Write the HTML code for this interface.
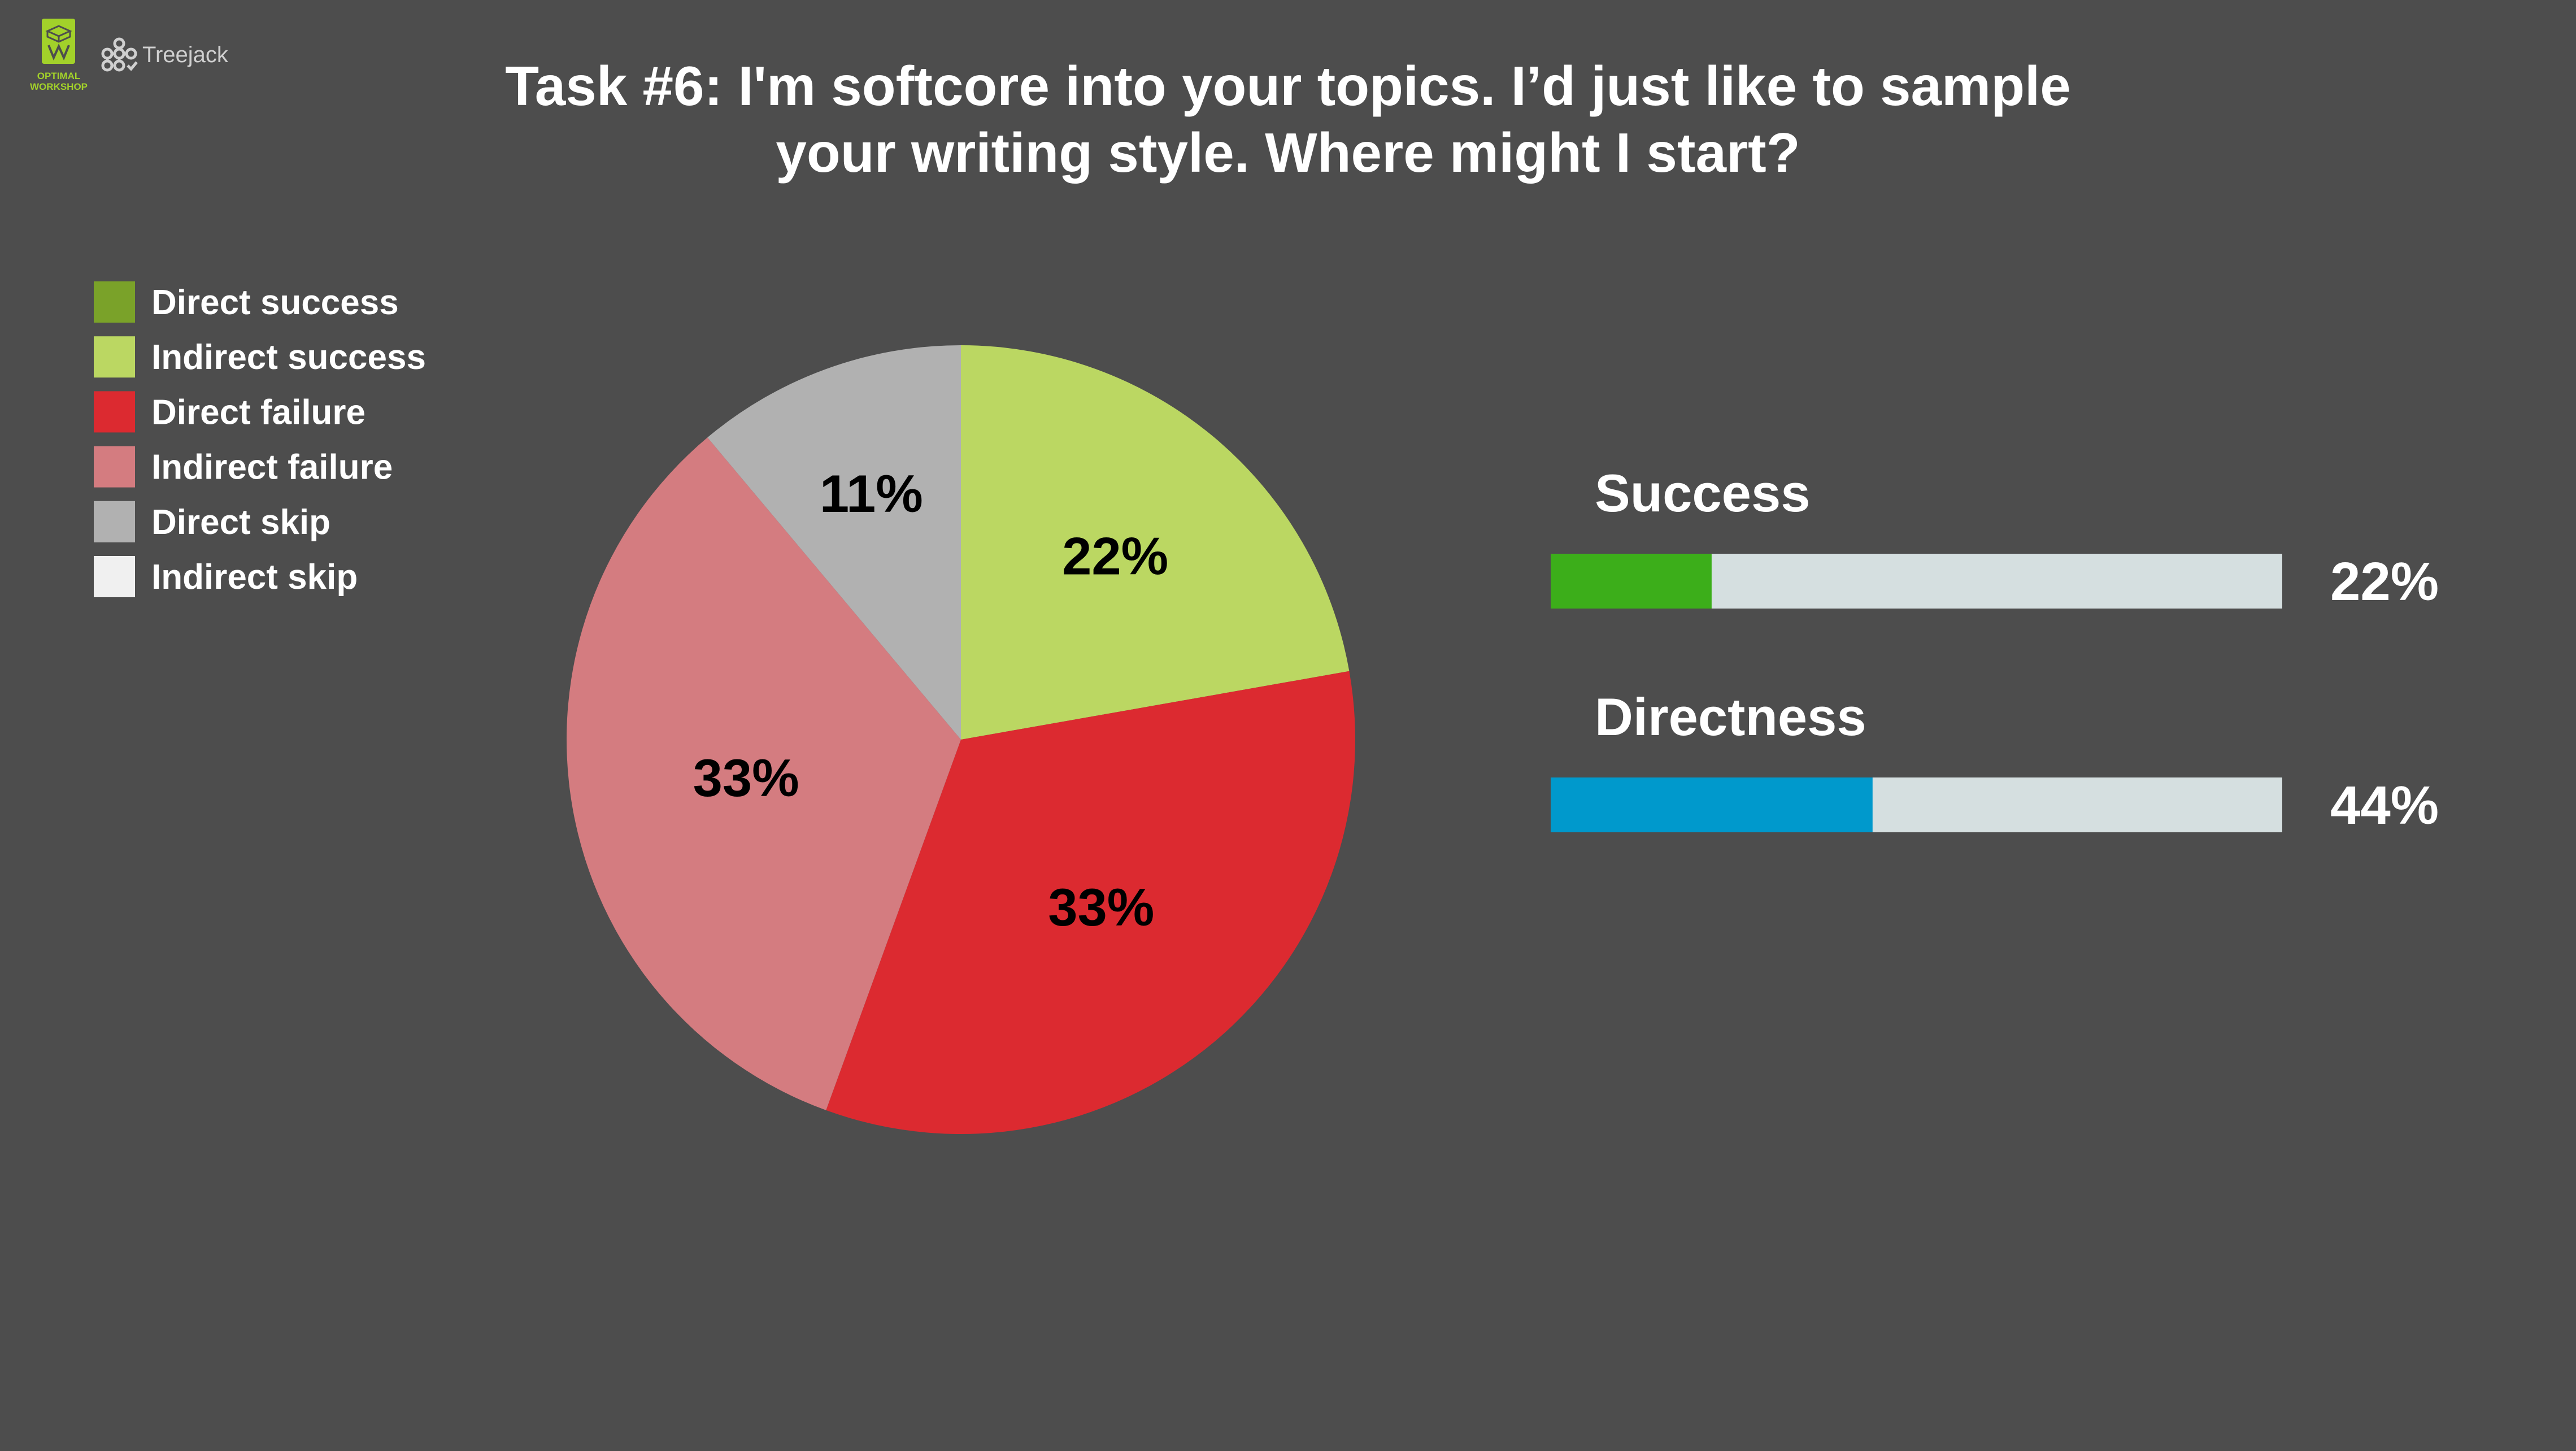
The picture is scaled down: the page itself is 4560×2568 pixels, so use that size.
<!DOCTYPE html>
<html><head><meta charset="utf-8"><style>
html,body{margin:0;padding:0;background:#4d4d4d;}
svg{display:block;font-family:"Liberation Sans",sans-serif;}
</style></head><body>
<svg id="chart" width="4560" height="2568" viewBox="0 0 4560 2568" xmlns="http://www.w3.org/2000/svg">
<rect width="4560" height="2568" fill="#4d4d4d"/>
<g>
<rect x="74" y="33" width="59" height="80" rx="4" fill="#a2d12a"/>
<path d="M84 55 L104 46 L124 55 L104 64 Z M84 55 L84 65 L104 74 L124 65 L124 55 M104 64 L104 74" stroke="#4d4d4d" stroke-width="3" fill="none"/>
<path d="M86 80 L95 102 L104 82 L113 102 L122 80" stroke="#4d4d4d" stroke-width="4" fill="none"/>
<text x="104" y="140" font-size="17" font-weight="bold" fill="#a2d12a" text-anchor="middle">OPTIMAL</text>
<text x="104" y="159" font-size="17" font-weight="bold" fill="#a2d12a" text-anchor="middle">WORKSHOP</text>
</g>
<g stroke="#cfcfcf" stroke-width="5" fill="none">
<line x1="211" y1="77" x2="211" y2="115"/><line x1="190" y1="95" x2="232" y2="95"/><line x1="190" y1="95" x2="190" y2="115"/>
<circle cx="211" cy="77" r="8" fill="#4d4d4d"/><circle cx="190" cy="95" r="8" fill="#4d4d4d"/><circle cx="211" cy="95" r="8" fill="#4d4d4d"/><circle cx="232" cy="95" r="8" fill="#4d4d4d"/><circle cx="190" cy="116" r="8" fill="#4d4d4d"/><circle cx="211" cy="116" r="8" fill="#4d4d4d"/>
<path d="M226 116 L232 122 L242 110"/>
<text x="252" y="110" font-size="40" fill="#d0d0d0" stroke="none">Treejack</text>
</g>
<g fill="#ffffff" font-weight="bold" font-size="98" text-anchor="middle">
<text x="2280" y="186">Task #6: I'm softcore into your topics. I’d just like to sample</text>
<text x="2280" y="304">your writing style. Where might I start?</text>
</g>
<g id="legend"></g>
<g id="pie"></g>
<g id="bars"></g>
</svg>
<script>
const legendLabels = ["Direct success","Indirect success","Direct failure","Indirect failure","Direct skip","Indirect skip"];
const legendColors = ["#7aa229","#bbd762","#dc2a30","#d47c80","#b1b1b1","#f0f0f0"];
const pieValues = [0, 2, 3, 3, 1, 0];
const pieLabels = ["", "22%", "33%", "33%", "11%", ""];
const metricNames = ["Success","Directness"];
const metricValues = [22, 44];
const metricColors = ["#3cae1a","#0099cc"];

const NS = "http://www.w3.org/2000/svg";
function mk(tag, attrs, parent){const e=document.createElementNS(NS,tag);for(const k in attrs)e.setAttribute(k,attrs[k]);parent.appendChild(e);return e;}

const lg = document.getElementById('legend');
legendLabels.forEach((lab,i)=>{
  const y = 498 + i*97.2;
  const r = mk('rect',{x:166,y:y,width:73,height:73,fill:legendColors[i]},lg);
  
  
  const t = mk('text',{x:268,y:y+58,'font-size':62,'font-weight':'bold',fill:'#ffffff'},lg);
  t.textContent = lab;
  
  
});

const pie = document.getElementById('pie');
const cx=1701, cy=1309, R=698;
const total = pieValues.reduce((a,b)=>a+b,0);
let acc = 0;
pieValues.forEach((v,i)=>{
  if(v<=0) return;
  const a0 = acc/total*2*Math.PI, a1=(acc+v)/total*2*Math.PI;
  acc += v;
  const p = a=>[cx+R*Math.sin(a), cy-R*Math.cos(a)];
  const [x0,y0]=p(a0),[x1,y1]=p(a1);
  const large = (a1-a0)>Math.PI?1:0;
  const s = mk('path',{d:`M${cx} ${cy} L${x0} ${y0} A${R} ${R} 0 ${large} 1 ${x1} ${y1} Z`,fill:legendColors[i]},pie);
  
  
  const am=(a0+a1)/2, lr=R*(0.72-0.5*v/total);
  const t = mk('text',{x:cx+lr*Math.sin(am),y:cy-lr*Math.cos(am)+33,'font-size':94,'font-weight':'bold',fill:'#000000','text-anchor':'middle'},pie);
  t.textContent = pieLabels[i];
  
  
});

const bars = document.getElementById('bars');
const bx=2745, bw=1295, bh=97;
metricNames.forEach((n,i)=>{
  const y = 980 + i*396;
  const t = mk('text',{x:2823,y:y-75,'font-size':94,'font-weight':'bold',fill:'#ffffff'},bars);
  t.textContent = n;
  
  
  const tr = mk('rect',{x:bx,y:y,width:bw,height:bh,fill:'#d5dfe0'},bars);
  
  
  const f = mk('rect',{x:bx,y:y,width:bw*metricValues[i]/100,height:bh,fill:metricColors[i]},bars);
  
  
  const v = mk('text',{x:4125,y:y+82,'font-size':96,'font-weight':'bold',fill:'#ffffff'},bars);
  v.textContent = metricValues[i]+'%';
  
  
});
</script>
</body></html>
